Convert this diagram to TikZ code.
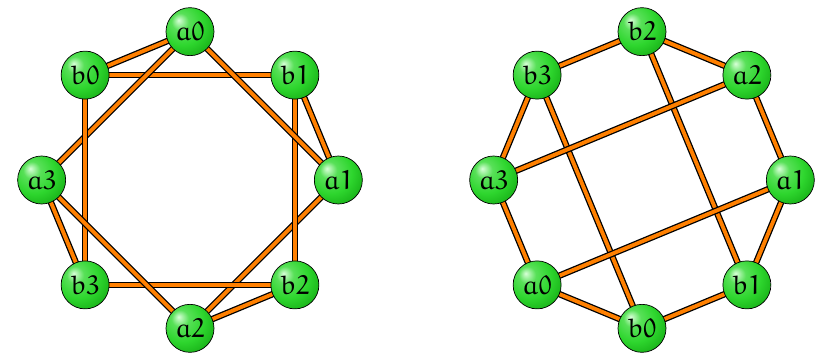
\documentclass[tikz,border=0pt]{standalone}
\usepackage{amsfonts}
\usetikzlibrary{backgrounds}

% Colori
\definecolor{verdeLuce}{HTML}{D8FFD8}
\definecolor{verdeMedio}{HTML}{2ED62E}
\definecolor{verdeScuro}{HTML}{0A9A0A}
\definecolor{colSpigolo}{HTML}{FF8000}

% Sfumatura a sfera per i vertici
\pgfdeclareradialshading{boccia}{\pgfpoint{-12bp}{12bp}}{%
  color(0bp)=(verdeLuce);
  color(9bp)=(verdeMedio!75!verdeLuce);
  color(22bp)=(verdeMedio);
  color(42bp)=(verdeScuro);
  color(64bp)=(verdeScuro!55!black)}

\begin{document}
\begin{tikzpicture}

\tikzset{
  vertice/.style={circle, draw=black, line width=0.6pt, shading=boccia,
    minimum size=1.44cm, inner sep=0pt,
    font=\fontsize{23}{27}\usefont{U}{eur}{m}{n}},
  spigolo/.style={draw=black, double=colSpigolo, double distance=3.3pt,
    line width=1.1pt}
}

% Raggio dell'ottagono
\def\r{4.45}

\useasboundingbox (0,0) rectangle (24.63,10.65);

% Grafo di sinistra
\begin{scope}[shift={(5.70,5.25)}]
\node[vertice] (la0) at (90:\r)   {a0};
\node[vertice] (lb1) at (45:\r)   {b1};
\node[vertice] (la1) at (0:\r)    {a1};
\node[vertice] (lb2) at (-45:\r)  {b2};
\node[vertice] (la2) at (-90:\r)  {a2};
\node[vertice] (lb3) at (-135:\r) {b3};
\node[vertice] (la3) at (180:\r)  {a3};
\node[vertice] (lb0) at (135:\r)  {b0};
\end{scope}

% Grafo di destra
\begin{scope}[shift={(19.26,5.25)}]
\node[vertice] (rb2) at (90:\r)   {b2};
\node[vertice] (ra2) at (45:\r)   {a2};
\node[vertice] (ra1) at (0:\r)    {a1};
\node[vertice] (rb1) at (-45:\r)  {b1};
\node[vertice] (rb0) at (-90:\r)  {b0};
\node[vertice] (ra0) at (-135:\r) {a0};
\node[vertice] (ra3) at (180:\r)  {a3};
\node[vertice] (rb3) at (135:\r)  {b3};
\end{scope}

% Spigoli (stesso grafo, due disposizioni)
\begin{scope}[on background layer]
\draw[spigolo] (la0.center) -- (lb0.center);
\draw[spigolo] (lb0.center) -- (lb1.center);
\draw[spigolo] (lb1.center) -- (la1.center);
\draw[spigolo] (la1.center) -- (la2.center);
\draw[spigolo] (la2.center) -- (lb2.center);
\draw[spigolo] (lb2.center) -- (lb3.center);
\draw[spigolo] (lb3.center) -- (la3.center);
\draw[spigolo] (la3.center) -- (la0.center);
\draw[spigolo] (lb3.center) -- (lb0.center);
\draw[spigolo] (lb2.center) -- (lb1.center);
\draw[spigolo] (la2.center) -- (la3.center);
\draw[spigolo] (la1.center) -- (la0.center);

\draw[spigolo] (ra0.center) -- (rb0.center);
\draw[spigolo] (rb0.center) -- (rb1.center);
\draw[spigolo] (rb1.center) -- (ra1.center);
\draw[spigolo] (ra1.center) -- (ra2.center);
\draw[spigolo] (ra2.center) -- (rb2.center);
\draw[spigolo] (rb2.center) -- (rb3.center);
\draw[spigolo] (rb3.center) -- (ra3.center);
\draw[spigolo] (ra3.center) -- (ra0.center);
\draw[spigolo] (rb3.center) -- (rb0.center);
\draw[spigolo] (rb2.center) -- (rb1.center);
\draw[spigolo] (ra2.center) -- (ra3.center);
\draw[spigolo] (ra1.center) -- (ra0.center);
\end{scope}

\end{tikzpicture}
\end{document}
